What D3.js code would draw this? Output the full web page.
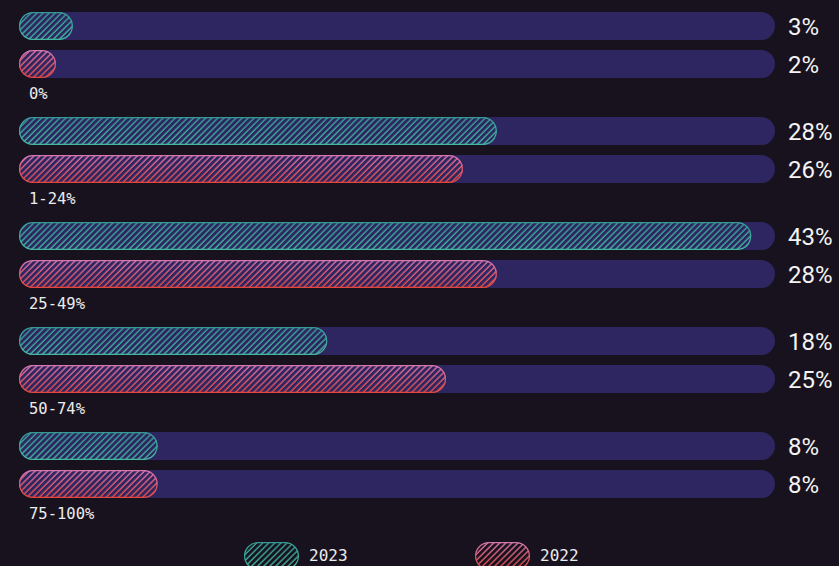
<!DOCTYPE html>
<html>
<head>
<meta charset="utf-8">
<script src="https://cdn.jsdelivr.net/npm/d3@7"></script>
<style>
  html, body { margin: 0; padding: 0; background: #17121e; }
  #chart { width: 839px; height: 566px; }
</style>
</head>
<body>
<div id="chart"></div>
<script>
// 数据
const categories = ["0%", "1-24%", "25-49%", "50-74%", "75-100%"];
const seriesNames = ["2023", "2022"];
const values2023 = [3, 28, 43, 18, 8];
const values2022 = [2, 26, 28, 25, 8];

const width = 839;
const height = 566;

const colors = {
  "2023": { top: "#369a94", bottom: "#43b8a0" },
  "2022": { top: "#d777ae", bottom: "#e4463e" }
};

const svg = d3.select("#chart")
  .append("svg")
  .attr("width", width)
  .attr("height", height);

const defs = svg.append("defs");

// 斜线图案 (白色, 用作 mask)
defs.append("pattern")
  .attr("id", "hatch")
  .attr("patternUnits", "userSpaceOnUse")
  .attr("width", 4.3)
  .attr("height", 4.3)
  .attr("patternTransform", "rotate(45)")
  .append("line")
  .attr("x1", 1).attr("y1", 0)
  .attr("x2", 1).attr("y2", 4.3)
  .attr("stroke", "#fff")
  .attr("stroke-width", 1.4);

defs.append("mask")
  .attr("id", "hatchMask")
  .attr("maskUnits", "userSpaceOnUse")
  .attr("x", 0).attr("y", 0)
  .attr("width", width).attr("height", height)
  .append("rect")
  .attr("width", width)
  .attr("height", height)
  .attr("fill", "url(#hatch)");

seriesNames.forEach(s => {
  const g = defs.append("linearGradient")
    .attr("id", "grad" + s)
    .attr("x1", 0).attr("y1", 0)
    .attr("x2", 0).attr("y2", 1);
  g.append("stop").attr("offset", "0%").attr("stop-color", colors[s].top);
  g.append("stop").attr("offset", "100%").attr("stop-color", colors[s].bottom);
});

const barStart = 19;   // 条形左端
const trackEnd = 775;  // 轨道右端

const x = d3.scaleLinear()
  .domain([0, 44.4])
  .range([22, trackEnd]);

const y = d3.scaleBand()
  .domain(categories)
  .range([12, 12 + categories.length * 105]);

const ySub = d3.scaleBand()
  .domain(seriesNames)
  .range([0, 66])
  .paddingInner(10 / 38);

const barH = ySub.bandwidth();

const rows = [];
categories.forEach((c, i) => {
  rows.push({ cat: c, series: "2023", value: values2023[i] });
  rows.push({ cat: c, series: "2022", value: values2022[i] });
});

const rowY = d => y(d.cat) + ySub(d.series);

// 背景轨道
svg.selectAll("rect.track")
  .data(rows)
  .join("rect")
  .attr("class", "track")
  .attr("x", barStart)
  .attr("y", rowY)
  .attr("width", trackEnd - barStart)
  .attr("height", barH)
  .attr("rx", barH / 2)
  .attr("fill", "#2e2660");

// 斜线填充
svg.selectAll("rect.hatch")
  .data(rows)
  .join("rect")
  .attr("class", "hatch")
  .attr("x", barStart)
  .attr("y", rowY)
  .attr("width", d => x(d.value) - barStart)
  .attr("height", barH)
  .attr("rx", barH / 2)
  .attr("fill", d => `url(#grad${d.series})`)
  .attr("mask", "url(#hatchMask)");

// 边框
svg.selectAll("rect.outline")
  .data(rows)
  .join("rect")
  .attr("class", "outline")
  .attr("x", barStart + 0.6)
  .attr("y", d => rowY(d) + 0.6)
  .attr("width", d => x(d.value) - barStart - 1.2)
  .attr("height", barH - 1.2)
  .attr("rx", (barH - 1.2) / 2)
  .attr("fill", "none")
  .attr("stroke", d => `url(#grad${d.series})`)
  .attr("stroke-width", 1.2);

// 数值
svg.selectAll("text.value")
  .data(rows)
  .join("text")
  .attr("class", "value")
  .attr("x", 788)
  .attr("y", d => rowY(d) + barH / 2 + 9)
  .attr("fill", "#f4f4f4")
  .attr("font-family", "Roboto, 'Noto Sans', sans-serif")
  .attr("font-size", "24px")
  .text(d => d.value + "%");

// 分类标签
svg.selectAll("text.cat")
  .data(categories)
  .join("text")
  .attr("class", "cat")
  .attr("x", 29)
  .attr("y", d => y(d) + 87)
  .attr("fill", "#ececec")
  .attr("font-family", "'DejaVu Sans Mono', monospace")
  .attr("font-size", "15.5px")
  .text(d => d);

// 图例
const legend = svg.append("g")
  .selectAll("g")
  .data(seriesNames)
  .join("g")
  .attr("transform", (d, i) => `translate(${244 + i * 231},542)`);

legend.append("rect")
  .attr("x", 0.6).attr("y", 0.6)
  .attr("width", 53.8)
  .attr("height", barH - 1.2)
  .attr("rx", (barH - 1.2) / 2)
  .attr("fill", d => `url(#grad${d})`)
  .attr("mask", "url(#hatchMask)");

legend.append("rect")
  .attr("x", 0.6).attr("y", 0.6)
  .attr("width", 53.8)
  .attr("height", barH - 1.2)
  .attr("rx", (barH - 1.2) / 2)
  .attr("fill", "none")
  .attr("stroke", d => `url(#grad${d})`)
  .attr("stroke-width", 1.2);

legend.append("text")
  .attr("x", 65)
  .attr("y", 19)
  .attr("fill", "#ececec")
  .attr("font-family", "'DejaVu Sans Mono', monospace")
  .attr("font-size", "16px")
  .text(d => d);
</script>
</body>
</html>
